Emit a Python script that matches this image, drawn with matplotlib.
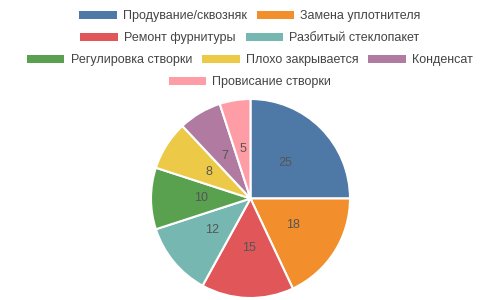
import matplotlib
matplotlib.use("Agg")
import matplotlib.pyplot as plt
from matplotlib.patches import Patch

plt.rcParams['font.family'] = ['Liberation Sans', 'DejaVu Sans']

categories = [
    "Продувание/сквозняк",
    "Замена уплотнителя",
    "Ремонт фурнитуры",
    "Разбитый стеклопакет",
    "Регулировка створки",
    "Плохо закрывается",
    "Конденсат",
    "Провисание створки",
]
values = [25, 18, 15, 12, 10, 8, 7, 5]
colors = ["#4e79a7", "#f28e2b", "#e15759", "#76b7b2",
          "#59a14f", "#edc948", "#b07aa1", "#ff9da7"]

# legend rows (indices into categories)
legend_rows = [[0, 1], [2, 3], [4, 5, 6], [7]]
row_y = [16, 38, 60.5, 82]  # pixel offsets from the top

W, H = 500, 300
fig = plt.figure(figsize=(W / 100, H / 100), dpi=100)

ax = fig.add_axes([151 / W, 2 / H, 199 / W, 199 / H])
wedges, texts = ax.pie(
    values,
    colors=colors,
    startangle=90,
    counterclock=False,
    labels=[str(v) for v in values],
    labeldistance=0.5,
    wedgeprops=dict(edgecolor="white", linewidth=1.5),
    textprops=dict(color="#555555", fontsize=9),
)
for w in wedges:
    w.set_clip_on(False)
for t in texts:
    t.set_horizontalalignment("center")
    t.set_verticalalignment("center")
ax.set_xlim(-1, 1)
ax.set_ylim(-1, 1)
ax.set_aspect("equal")
ax.axis("off")

for row, y in zip(legend_rows, row_y):
    handles = [Patch(facecolor=colors[i], edgecolor="none") for i in row]
    labels = [categories[i] for i in row]
    fig.legend(
        handles, labels,
        loc="center", bbox_to_anchor=(0.5, 1 - y / H),
        ncol=len(row), frameon=False, fontsize=9,
        handlelength=3.0, handleheight=0.6,
        handletextpad=0.5, columnspacing=0.8,
        borderpad=0, borderaxespad=0,
        labelcolor="#444444",
    )

fig.savefig("out.png", dpi=100)
